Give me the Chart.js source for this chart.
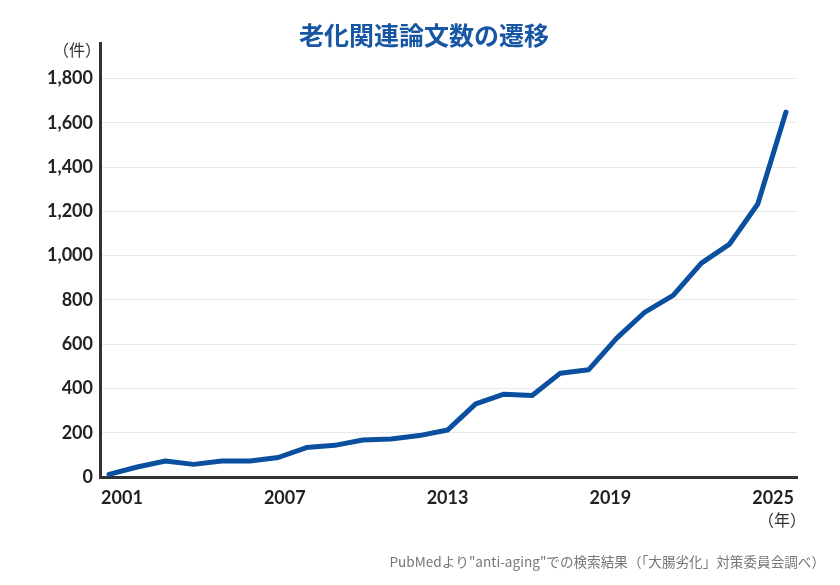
<!DOCTYPE html>
<html>
<head>
<meta charset="utf-8">
<script src="https://cdn.jsdelivr.net/npm/chart.js@4/dist/chart.umd.min.js"></script>
<style>
  html,body{margin:0;padding:0;background:#fff;}
  #wrap{width:840px;height:585px;}
</style>
</head>
<body>
<div id="wrap"><canvas id="paperChart"></canvas></div>
<script>
// data
var years = [2001,2002,2003,2004,2005,2006,2007,2008,2009,2010,2011,2012,2013,
             2014,2015,2016,2017,2018,2019,2020,2021,2022,2023,2024,2025];
var papers = [12,45,72,57,72,72,88,133,143,167,172,187,212,
              330,374,368,469,484,627,745,820,966,1052,1233,1648];
var yearTicks = [2001,2007,2013,2019,2025];
var countTicks = [0,200,400,600,800,1000,1200,1400,1600,1800];

var titleText = '老化関連論文数の遷移';
var yUnit = '（件）';
var xUnit = '（年）';
var sourceText = 'PubMedより"anti-aging"での検索結果（「大腸劣化」対策委員会調べ）';

var blue = '#0b4f9f';

// extra texts: title, units, source
var textPlugin = {
  id: 'texts',
  afterDraw: function(chart){
    var c = chart.ctx;
    c.save();
    c.textBaseline = 'middle';
    c.textAlign = 'center';
    c.fillStyle = '#1656a3';
    c.font = 'bold 25px "Noto Sans CJK JP"';
    c.fillText(titleText, 424, 35);

    c.fillStyle = '#333';
    c.font = '16px "Noto Sans CJK JP"';
    c.fillText(yUnit, 77, 50);
    c.fillText(xUnit, 782, 520);

    c.textAlign = 'right';
    c.fillStyle = '#777';
    c.font = '13.6px "Noto Sans CJK JP"';
    c.fillText(sourceText, 825, 562);
    c.restore();
  }
};

var tickFont = { family: 'Lato', size: 18, weight: 'bold' };

var ctx = document.getElementById('paperChart').getContext('2d');
var myChart = new Chart(ctx, {
  type: 'line',
  data: {
    datasets: [{
      data: years.map(function(y, i){ return {x: y, y: papers[i]}; }),
      borderColor: blue,
      borderWidth: 5,
      pointRadius: 0,
      tension: 0,
      borderJoinStyle: 'round',
      borderCapStyle: 'round'
    }]
  },
  options: {
    responsive: true,
    maintainAspectRatio: false,
    animation: false,
    layout: { padding: { top: 43, left: 0, right: 43, bottom: 78 } },
    plugins: { legend: { display: false }, tooltip: { enabled: false } },
    scales: {
      x: {
        type: 'linear',
        min: 2000.68,
        max: 2025.39,
        weight: 0,
        grid: { display: false, drawTicks: false },
        border: { display: true, color: '#333', width: 3 },
        ticks: { display: false },
        afterFit: function(scale){ scale.height = 0; }
      },
      // year labels sit a bit tighter than the points in the original
      xl: {
        type: 'linear',
        position: 'bottom',
        min: 2000.19,
        max: 2025.88,
        weight: 1,
        grid: { display: false, drawTicks: false },
        border: { display: false },
        afterBuildTicks: function(scale){
          scale.ticks = yearTicks.map(function(v){ return {value: v}; });
        },
        afterFit: function(scale){ scale.height = 30; },
        ticks: {
          padding: 10,
          color: '#222',
          font: tickFont,
          maxRotation: 0,
          autoSkip: false,
          callback: function(v){ return String(v); }
        }
      },
      y: {
        min: 0,
        max: 1960,
        grid: { color: '#e8e8e8', lineWidth: 1, drawTicks: false },
        border: { display: true, color: '#333', width: 3 },
        afterBuildTicks: function(scale){
          scale.ticks = countTicks.map(function(v){ return {value: v}; });
        },
        afterFit: function(scale){ scale.width = 100; },
        ticks: {
          padding: 7,
          color: '#222',
          font: tickFont,
          callback: function(v){ return v.toLocaleString('en-US'); }
        }
      }
    }
  },
  plugins: [textPlugin]
});
</script>
</body>
</html>
